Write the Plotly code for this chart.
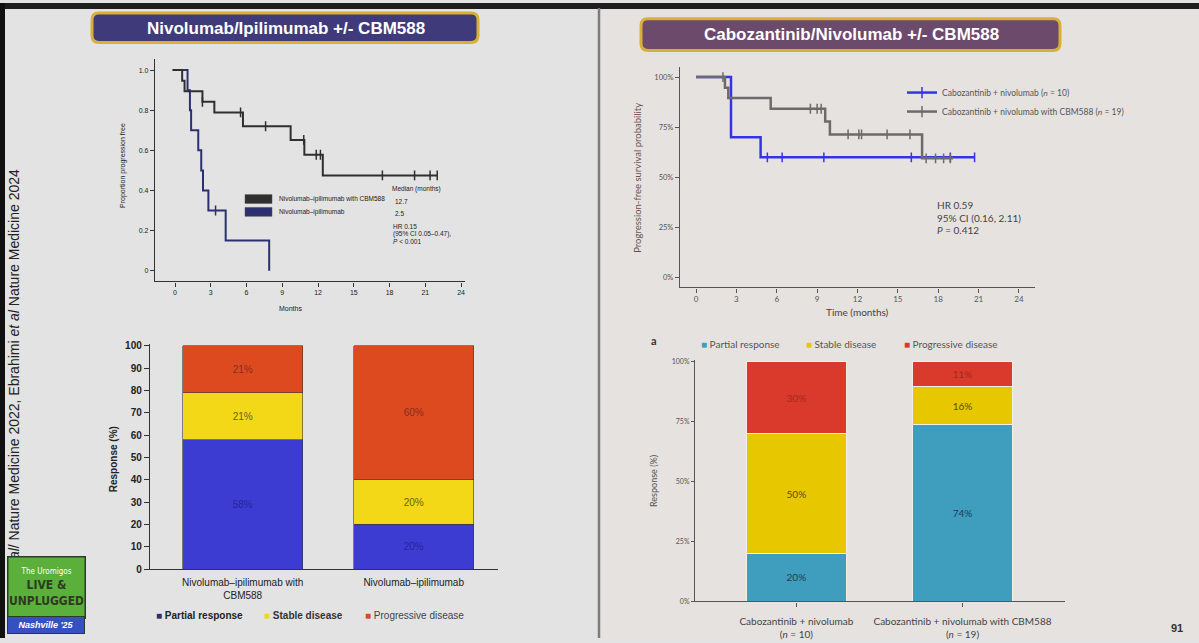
import plotly.graph_objects as go

W, H = 1199, 643


def px(x):
    return x / W


def py(y):
    return 1 - y / H


# ---- left top: nivolumab/ipilimumab +/- CBM588, PFS (proportion)
nivo_cbm_months = [-0.2, 0.6, 0.8, 2.3, 3.3, 5.7, 9.7, 10.85, 12.4, 22.0]
nivo_cbm_pfs = [1.0, 0.947, 0.895, 0.842, 0.789, 0.72, 0.652, 0.578, 0.475, 0.475]
nivo_cbm_cens_months = [2.3, 5.5, 7.6, 10.8, 11.85, 12.2, 17.4, 20.1, 21.4, 22.0]
nivo_cbm_cens_pfs = [0.842, 0.789, 0.72, 0.652, 0.578, 0.578, 0.475, 0.475, 0.475, 0.475]
nivo_months = [-0.2, 1.05, 1.25, 1.35, 1.95, 2.2, 2.35, 2.8, 4.25, 7.9]
nivo_pfs = [1.0, 0.9, 0.8, 0.7, 0.6, 0.5, 0.4, 0.3, 0.15, 0.0]
nivo_cens_months = [3.4]
nivo_cens_pfs = [0.3]

# ---- right top: cabozantinib/nivolumab +/- CBM588, PFS (%)
cabo_months = [0, 2.6, 4.8, 20.7]
cabo_pfs = [100, 70, 60, 60]
cabo_cens_months = [5.3, 6.4, 9.5, 16.0, 18.9, 20.7]
cabo_cens_pfs = [60, 60, 60, 60, 60, 60]
cabo_cbm_months = [0, 2.15, 2.4, 5.55, 9.6, 9.95, 16.8, 19.1]
cabo_cbm_pfs = [100, 94.7, 89.5, 84.2, 77.9, 71.4, 59.5, 59.5]
cabo_cbm_cens_months = [2.0, 8.5, 9.0, 9.3, 11.3, 12.1, 12.3, 14.2, 15.9, 17.1, 17.8, 18.4, 18.9]
cabo_cbm_cens_pfs = [100, 84.2, 84.2, 84.2, 71.4, 71.4, 71.4, 71.4, 71.4, 59.5, 59.5, 59.5, 59.5]

# ---- bottom: best response
left_groups = ["Nivolumab–ipilimumab with<br>CBM588", "Nivolumab–ipilimumab"]
left_partial = [58, 20]
left_stable = [21, 20]
left_progressive = [21, 60]

right_groups = ["Cabozantinib + nivolumab<br>(<i>n</i> = 10)",
                "Cabozantinib + nivolumab with CBM588<br>(<i>n</i> = 19)"]
right_partial = [20, 73.7]
right_stable = [50, 15.8]
right_progressive = [30, 10.5]

SANS = "Liberation Sans, Arial, sans-serif"
GEO = "Lato, Open Sans, sans-serif"

KM_BLACK = "#2f2f2f"
KM_NAVY = "#2b3170"
KM_BLUE = "#3434e6"
KM_GRAY = "#6c6a6a"
L_PR, L_SD, L_PD = "#3c3cd2", "#f2d816", "#de4a20"
R_PR, R_SD, R_PD = "#3f9dbd", "#e6c700", "#d93a2c"


def censor_marker(col):
    return dict(symbol="line-ns-open", size=7, color=col, line=dict(color=col, width=1.5))


fig = go.Figure()

# left KM
fig.add_trace(go.Scatter(x=nivo_months, y=nivo_pfs, mode="lines", line_shape="hv",
                         line=dict(color=KM_NAVY, width=2), showlegend=False,
                         xaxis="x", yaxis="y"))
fig.add_trace(go.Scatter(x=nivo_cens_months, y=nivo_cens_pfs, mode="markers",
                         marker=censor_marker(KM_NAVY), showlegend=False, xaxis="x", yaxis="y"))
fig.add_trace(go.Scatter(x=nivo_cbm_months, y=nivo_cbm_pfs, mode="lines", line_shape="hv",
                         line=dict(color=KM_BLACK, width=2), showlegend=False,
                         xaxis="x", yaxis="y"))
fig.add_trace(go.Scatter(x=nivo_cbm_cens_months, y=nivo_cbm_cens_pfs, mode="markers",
                         marker=censor_marker(KM_BLACK), showlegend=False, xaxis="x", yaxis="y"))

# right KM
fig.add_trace(go.Scatter(x=cabo_months, y=cabo_pfs, mode="lines", line_shape="hv",
                         line=dict(color=KM_BLUE, width=2.5), showlegend=False,
                         xaxis="x2", yaxis="y2"))
fig.add_trace(go.Scatter(x=cabo_cens_months, y=cabo_cens_pfs, mode="markers",
                         marker=censor_marker(KM_BLUE), showlegend=False, xaxis="x2", yaxis="y2"))
fig.add_trace(go.Scatter(x=cabo_cbm_months, y=cabo_cbm_pfs, mode="lines", line_shape="hv",
                         line=dict(color=KM_GRAY, width=2.5), showlegend=False,
                         xaxis="x2", yaxis="y2"))
fig.add_trace(go.Scatter(x=cabo_cbm_cens_months, y=cabo_cbm_cens_pfs, mode="markers",
                         marker=censor_marker(KM_GRAY), showlegend=False, xaxis="x2", yaxis="y2"))
# legend entries for right KM
for name, col in [("Cabozantinib + nivolumab (<i>n</i> = 10)", KM_BLUE),
                  ("Cabozantinib + nivolumab with CBM588 (<i>n</i> = 19)", KM_GRAY)]:
    fig.add_trace(go.Scatter(x=[None], y=[None], mode="lines+markers", name=name,
                             line=dict(color=col, width=2.5),
                             marker=dict(symbol="line-ns-open", size=8, color=col, line=dict(color=col, width=1.5)),
                             xaxis="x2", yaxis="y2"))

# left bars
for vals, col, tcol in [(left_partial, L_PR, "#26269a"),
                        (left_stable, L_SD, "#6e5e1e"),
                        (left_progressive, L_PD, "#8a2c1c")]:
    fig.add_trace(go.Bar(x=left_groups, y=vals, width=0.70,
                         marker=dict(color=col, line=dict(color="#3a3a3a", width=0.6)),
                         texttemplate="%{y:.0f}%", textposition="inside", insidetextanchor="middle",
                         textangle=0, textfont=dict(family=SANS, size=10, color=tcol),
                         showlegend=False, xaxis="x3", yaxis="y3"))

# right bars
for vals, col, tcol in [(right_partial, R_PR, "#1e3c58"),
                        (right_stable, R_SD, "#5e4a10"),
                        (right_progressive, R_PD, "#a8281e")]:
    fig.add_trace(go.Bar(x=right_groups, y=vals, width=0.60,
                         marker=dict(color=col, line=dict(color="#f4eeea", width=1)),
                         texttemplate="%{y:.0f}%", textposition="inside", insidetextanchor="middle",
                         textangle=0, textfont=dict(family=GEO, size=10, color=tcol),
                         showlegend=False, xaxis="x4", yaxis="y4"))

axis_common = dict(showgrid=False, zeroline=False, showline=True, ticks="outside")

fig.update_layout(
    width=W, height=H, margin=dict(l=0, r=0, t=0, b=0),
    paper_bgcolor="#e3e3e4", plot_bgcolor="rgba(0,0,0,0)",
    barmode="stack",
    xaxis=dict(axis_common, domain=[px(155), px(465)], range=[-1.68, 24.33],
               tick0=0, dtick=3, ticklen=4, linecolor="#333", linewidth=1.2,
               tickcolor="#333", tickfont=dict(family=SANS, size=7, color="#222"), anchor="y"),
    yaxis=dict(axis_common, domain=[py(282), py(57)], range=[-0.054, 1.054],
               tickvals=[0, 0.2, 0.4, 0.6, 0.8, 1.0], ticktext=["0", "0.2", "0.4", "0.6", "0.8", "1.0"],
               ticklen=4, linecolor="#333", linewidth=1.2, tickcolor="#333",
               tickfont=dict(family=SANS, size=7, color="#222"), anchor="x"),
    xaxis2=dict(axis_common, domain=[px(680), px(1035)], range=[-1.19, 25.19],
                tick0=0, dtick=3, ticklen=4, linecolor="#555", linewidth=1.2,
                tickcolor="#555", tickfont=dict(family=GEO, size=8, color="#555"), anchor="y2"),
    yaxis2=dict(axis_common, domain=[py(288), py(65)], range=[-4.77, 104.9],
                tick0=0, dtick=25, ticksuffix="%", ticklen=4, linecolor="#555",
                linewidth=1.2, tickcolor="#555", tickfont=dict(family=GEO, size=7.5, color="#555"),
                anchor="x2"),
    xaxis3=dict(axis_common, domain=[px(150), px(498)], range=[-0.542, 1.493], ticks="",
                ticklabelstandoff=4, linecolor="#333", linewidth=1.4,
                tickfont=dict(family=SANS, size=10, color="#222"), anchor="y3"),
    yaxis3=dict(axis_common, domain=[py(573.3), py(345)], range=[0, 100.9], dtick=10, ticklen=5,
                linecolor="#333", linewidth=1.4, tickcolor="#333",
                tickfont=dict(family=SANS, size=10, color="#222", weight="bold"), anchor="x3"),
    xaxis4=dict(axis_common, domain=[px(695), px(1065)], range=[-0.61, 1.617], ticklen=4,
                ticklabelstandoff=6, linecolor="#555", linewidth=1.2, tickcolor="#555",
                tickfont=dict(family=GEO, size=10, color="#444"), anchor="y4"),
    yaxis4=dict(axis_common, domain=[py(606), py(362)], range=[0, 100.5],
                tick0=0, dtick=25, ticksuffix="%", ticklen=3, linecolor="#555",
                linewidth=1.2, tickcolor="#555", tickfont=dict(family=GEO, size=7, color="#555"),
                anchor="x4"),
    legend=dict(x=px(902), y=py(76), xanchor="left", yanchor="top", bgcolor="rgba(0,0,0,0)",
                font=dict(family=GEO, size=8.5, color="#555"), itemwidth=30, tracegroupgap=0,
                traceorder="normal"),
)


def banner(x0, x1, y0, y1, r, fill):
    rx, ry = r / W, r / H
    a, b, c, d = px(x0), px(x1), py(y0), py(y1)
    path = (f"M {a + rx},{c} L {b - rx},{c} Q {b},{c} {b},{c - ry} "
            f"L {b},{d + ry} Q {b},{d} {b - rx},{d} L {a + rx},{d} "
            f"Q {a},{d} {a},{d + ry} L {a},{c - ry} Q {a},{c} {a + rx},{c} Z")
    return dict(type="path", xref="paper", yref="paper", path=path, fillcolor=fill,
                line=dict(color="#d8b038", width=3), layer="above")


shapes = [
    dict(type="rect", xref="paper", yref="paper", x0=px(601), x1=1, y0=0, y1=1,
         fillcolor="#e6e2e0", line=dict(width=0), layer="below"),
    dict(type="rect", xref="paper", yref="paper", x0=0, x1=1, y0=py(6), y1=1,
         fillcolor="#1e1e1e", line=dict(width=0), layer="below"),
    dict(type="rect", xref="paper", yref="paper", x0=0, x1=px(5), y0=0, y1=1,
         fillcolor="#111", line=dict(width=0), layer="below"),
    dict(type="line", xref="paper", yref="paper", x0=px(599), x1=px(599), y0=0, y1=py(5),
         line=dict(color="#7c7c7c", width=2.5), layer="below"),
    banner(92, 478, 10, 40, 7, "#3f3b7a"),
    banner(641, 1060, 16, 48, 7, "#6c4a6c"),
    # left KM legend swatches
    dict(type="rect", xref="paper", yref="paper", x0=px(245), x1=px(272), y0=py(203), y1=py(194),
         fillcolor=KM_BLACK, line=dict(color="#555", width=0.5)),
    dict(type="rect", xref="paper", yref="paper", x0=px(245), x1=px(272), y0=py(216), y1=py(207),
         fillcolor=KM_NAVY, line=dict(color="#555", width=0.5)),
]


def note(x, y, text, size, family=SANS, color="#333", xanchor="left", **kw):
    return dict(x=px(x), y=py(y), xref="paper", yref="paper", text=text, showarrow=False,
                xanchor=xanchor, yanchor="middle", font=dict(family=family, size=size, color=color), **kw)


annotations = [
    note(286, 26, "<b>Nivolumab/Ipilimumab +/- CBM588</b>", 17, color="white", xanchor="center"),
    note(851, 32, "<b>Cabozantinib/Nivolumab +/- CBM588</b>", 17, color="white", xanchor="center"),
    # left KM
    note(123, 165, "Proportion progression free", 7, color="#222", xanchor="center", textangle=-90),
    note(290, 309, "Months", 7, color="#222", xanchor="center"),
    note(277, 198.5, "Nivolumab–ipilimumab with CBM588", 6.5, color="#222"),
    note(277, 211.5, "Nivolumab–ipilimumab", 6.5, color="#222"),
    note(390, 188, "Median (months)", 6.5, color="#222"),
    note(393, 200.5, "12.7", 6.5, color="#222"),
    note(393, 213, "2.5", 6.5, color="#222"),
    note(391, 226, "HR 0.15", 6.5, color="#222"),
    note(391, 234, "(95% CI 0.05–0.47),", 6.5, color="#222"),
    note(391, 242, "<i>P</i> < 0.001", 6.5, color="#222"),
    # right KM
    note(638, 177, "Progression-free survival probability", 9.5, family=GEO, color="#6a5250",
         xanchor="center", textangle=-90),
    note(857, 313, "Time (months)", 10, family=GEO, color="#444", xanchor="center"),
    note(935, 205, "HR 0.59", 10, family=GEO, color="#444"),
    note(935, 218, "95% CI (0.16, 2.11)", 10, family=GEO, color="#444"),
    note(935, 230, "<i>P</i> = 0.412", 10, family=GEO, color="#444"),
    # left bars
    note(113, 462, "<b>Response (%)</b>", 10, color="#222", xanchor="center", textangle=-90),
    note(154, 620, f"<span style='color:{KM_NAVY}'>■</span> <b>Partial response</b>", 10, color="#222"),
    note(262, 620, f"<span style='color:{L_SD}'>■</span> <b>Stable disease</b>", 10, color="#333"),
    note(363, 620, f"<span style='color:{L_PD}'>■</span> Progressive disease", 10, color="#444"),
    # right bars
    note(654, 342, "<b>a</b>", 11, family=GEO, color="#333", xanchor="center"),
    note(654, 484, "Response (%)", 9, family=GEO, color="#555", xanchor="center", textangle=-90),
    note(699, 345, f"<span style='color:{R_PR}'>■</span> Partial response", 10, family=GEO, color="#555"),
    note(804, 345, f"<span style='color:{R_SD}'>■</span> Stable disease", 10, family=GEO, color="#555"),
    note(902, 345, f"<span style='color:{R_PD}'>■</span> Progressive disease", 10, family=GEO, color="#555"),
    # slide furniture
    note(14, 400, "Dizman <i>et al</i>/ Nature Medicine 2022, Ebrahimi <i>et al</i> Nature Medicine 2024",
         14, color="#222", xanchor="center", textangle=-90),
    dict(x=px(46), y=py(592), xref="paper", yref="paper", showarrow=False, xanchor="center",
         yanchor="middle", width=74, height=58, bgcolor="#5bb03c", bordercolor="#2c3a2a", borderwidth=1.5,
         text="<span style='font-size:8px;color:white'>The Uromigos</span><br><b>LIVE &</b><br><b>UNPLUGGED</b>",
         font=dict(family="DejaVu Sans Condensed, DejaVu Sans", size=12, color="#2e3a22")),
    dict(x=px(46), y=py(630), xref="paper", yref="paper", showarrow=False, xanchor="center",
         yanchor="middle", width=74, height=14, bgcolor="#3550c0", bordercolor="#2c3a2a", borderwidth=1,
         text="<i><b>Nashville '25</b></i>", font=dict(family=SANS, size=9, color="white")),
    note(1177, 633, "<b>91</b>", 11, color="#333", xanchor="center"),
]

fig.update_layout(shapes=shapes, annotations=annotations)

fig.write_html("out.html", config={"displayModeBar": False},
               post_script="document.body.style.margin='0';document.body.style.overflow='hidden';")
